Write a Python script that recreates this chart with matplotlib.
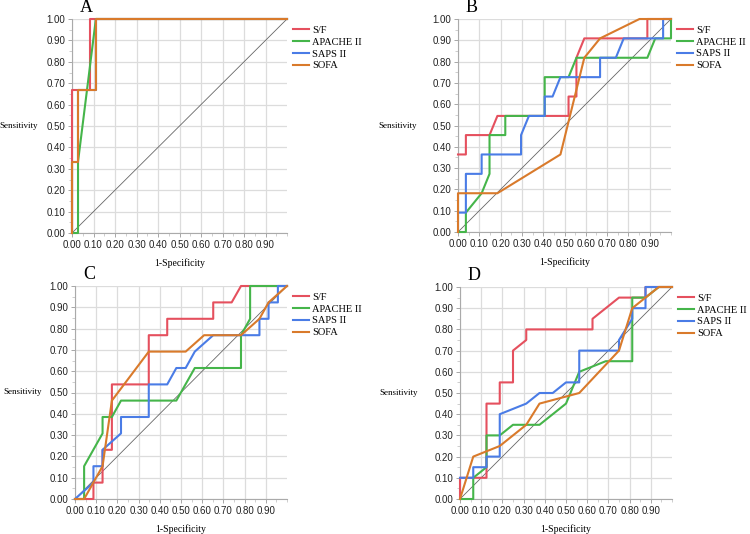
import numpy as np
import matplotlib
matplotlib.use("Agg")
import matplotlib.pyplot as plt
from matplotlib.ticker import MultipleLocator

# series names and colours
names = ["S/F", "APACHE II", "SAPS II", "SOFA"]
colors = ["#e5505e", "#45b54a", "#4a7ce6", "#d97a2b"]

# Panel A  (ROC points, 1-specificity / sensitivity)
a_sf_x = [0, 0, 0.083, 0.083, 1]
a_sf_y = [0, 0.667, 0.667, 1, 1]
a_ap_x = [0, 0.028, 0.028, 0.111, 1]
a_ap_y = [0, 0, 0.333, 1, 1]
a_sa_x = [0, 0, 0.028, 0.028, 0.111, 0.111, 1]
a_sa_y = [0, 0.333, 0.333, 0.667, 0.667, 1, 1]
a_so_x = [0, 0, 0.028, 0.028, 0.111, 0.111, 1]
a_so_y = [0, 0.333, 0.333, 0.667, 0.667, 1, 1]

# Panel B
b_sf_x = [0, 0.037, 0.037, 0.148, 0.185, 0.519, 0.519, 0.556, 0.556, 0.593, 0.889, 0.889, 1]
b_sf_y = [0.364, 0.364, 0.455, 0.455, 0.545, 0.545, 0.636, 0.636, 0.818, 0.909, 0.909, 1, 1]
b_ap_x = [0, 0.037, 0.037, 0.111, 0.148, 0.148, 0.222, 0.222, 0.407, 0.407, 0.519, 0.556, 0.889, 0.926, 1, 1]
b_ap_y = [0, 0, 0.091, 0.182, 0.273, 0.455, 0.455, 0.545, 0.545, 0.727, 0.727, 0.818, 0.818, 0.909, 0.909, 1]
b_sa_x = [0, 0.037, 0.037, 0.111, 0.111, 0.296, 0.296, 0.333, 0.407, 0.407, 0.444, 0.481, 0.667, 0.667,
          0.741, 0.778, 0.963, 0.963, 1]
b_sa_y = [0.091, 0.091, 0.273, 0.273, 0.364, 0.364, 0.455, 0.545, 0.545, 0.636, 0.636, 0.727, 0.727, 0.818,
          0.818, 0.909, 0.909, 1, 1]
b_so_x = [0, 0, 0.185, 0.481, 0.593, 0.667, 0.852, 1]
b_so_y = [0, 0.182, 0.182, 0.364, 0.818, 0.909, 1, 1]

# Panel C
c_sf_x = [0, 0.087, 0.087, 0.130, 0.130, 0.174, 0.174, 0.348, 0.348, 0.435, 0.435, 0.652, 0.652, 0.739, 0.783, 1]
c_sf_y = [0, 0, 0.077, 0.077, 0.231, 0.231, 0.538, 0.538, 0.769, 0.769, 0.846, 0.846, 0.923, 0.923, 1, 1]
c_ap_x = [0, 0.043, 0.043, 0.130, 0.130, 0.174, 0.217, 0.478, 0.565, 0.783, 0.783, 0.826, 0.826, 1]
c_ap_y = [0, 0, 0.154, 0.308, 0.385, 0.385, 0.462, 0.462, 0.615, 0.615, 0.769, 0.846, 1, 1]
c_sa_x = [0, 0.087, 0.087, 0.130, 0.130, 0.217, 0.217, 0.348, 0.348, 0.435, 0.478, 0.522, 0.565, 0.652,
          0.870, 0.870, 0.913, 0.913, 0.957, 0.957, 1]
c_sa_y = [0, 0.077, 0.154, 0.154, 0.231, 0.308, 0.385, 0.385, 0.538, 0.538, 0.615, 0.615, 0.692, 0.769,
          0.769, 0.846, 0.846, 0.923, 0.923, 1, 1]
c_so_x = [0, 0.043, 0.130, 0.174, 0.348, 0.522, 0.609, 0.783, 0.870, 0.913, 1]
c_so_y = [0, 0, 0.154, 0.462, 0.692, 0.692, 0.769, 0.769, 0.846, 0.923, 1]

# Panel D
d_sf_x = [0, 0, 0.125, 0.125, 0.1875, 0.1875, 0.25, 0.25, 0.3125, 0.3125, 0.625, 0.625, 0.75, 0.875, 0.875, 1]
d_sf_y = [0, 0.1, 0.1, 0.45, 0.45, 0.55, 0.55, 0.70, 0.75, 0.80, 0.80, 0.85, 0.95, 0.95, 1, 1]
d_ap_x = [0, 0.0625, 0.0625, 0.125, 0.125, 0.1875, 0.25, 0.375, 0.5, 0.5625, 0.6875, 0.8125, 0.8125, 0.875,
          0.9375, 1]
d_ap_y = [0, 0, 0.1, 0.15, 0.30, 0.30, 0.35, 0.35, 0.45, 0.60, 0.65, 0.65, 0.95, 0.95, 1, 1]
d_sa_x = [0, 0.0625, 0.0625, 0.125, 0.125, 0.1875, 0.1875, 0.3125, 0.375, 0.4375, 0.5, 0.5625, 0.5625, 0.75,
          0.75, 0.8125, 0.8125, 0.875, 0.875, 1]
d_sa_y = [0.1, 0.1, 0.15, 0.15, 0.20, 0.20, 0.40, 0.45, 0.50, 0.50, 0.55, 0.55, 0.70, 0.70, 0.75, 0.85,
          0.90, 0.90, 1, 1]
d_so_x = [0, 0.0625, 0.1875, 0.3125, 0.375, 0.5625, 0.75, 0.8125, 0.875, 0.9375, 1]
d_so_y = [0, 0.20, 0.25, 0.35, 0.45, 0.50, 0.70, 0.90, 0.95, 1, 1]

panels = [
    ("A", [(a_sf_x, a_sf_y), (a_ap_x, a_ap_y), (a_sa_x, a_sa_y), (a_so_x, a_so_y)]),
    ("B", [(b_sf_x, b_sf_y), (b_ap_x, b_ap_y), (b_sa_x, b_sa_y), (b_so_x, b_so_y)]),
    ("C", [(c_sf_x, c_sf_y), (c_ap_x, c_ap_y), (c_sa_x, c_sa_y), (c_so_x, c_so_y)]),
    ("D", [(d_sf_x, d_sf_y), (d_ap_x, d_ap_y), (d_sa_x, d_sa_y), (d_so_x, d_so_y)]),
]

W, H = 750, 534
# axes boxes in pixels: left, top, right, bottom
boxes = [(72, 19, 287, 233), (458, 19, 671, 232), (75, 286, 287, 499), (460, 287, 672, 499)]
ylab_x = [-0.246, -0.285, -0.245, -0.29]
serif = ["Liberation Serif", "DejaVu Serif"]
sans = ["Liberation Sans", "DejaVu Sans"]

fig = plt.figure(figsize=(W / 100, H / 100), dpi=100)

for (letter, curves), box, ylx in zip(panels, boxes, ylab_x):
    l, t, r, b = box
    ax = fig.add_axes([l / W, 1 - b / H, (r - l) / W, (b - t) / H])
    ax.set_xlim(0, 1)
    ax.set_ylim(0, 1)
    ax.set_xticks(np.arange(0, 0.95, 0.1))
    ax.set_yticks(np.arange(0, 1.05, 0.1))
    ax.set_xticklabels([f"{v:.2f}" for v in np.arange(0, 0.95, 0.1)], family=sans, fontsize=7, color="#222222")
    ax.set_yticklabels([f"{v:.2f}" for v in np.arange(0, 1.05, 0.1)], family=sans, fontsize=7, color="#222222")
    ax.xaxis.set_minor_locator(MultipleLocator(0.05))
    ax.yaxis.set_minor_locator(MultipleLocator(0.05))
    ax.tick_params(which="major", length=3, width=0.6, color="#999999", pad=2)
    ax.tick_params(which="minor", length=2, width=0.5, color="#bbbbbb")
    ax.grid(True, which="major", color="#dcdcdc", lw=0.9)
    for s in ["top", "right"]:
        ax.spines[s].set_visible(False)
    for s in ["left", "bottom"]:
        ax.spines[s].set_color("#aaaaaa")
        ax.spines[s].set_linewidth(0.8)
    ax.set_axisbelow(True)

    ax.plot([0, 1], [0, 1], color="#666666", lw=0.6, zorder=2)
    for i in range(4):
        xs, ys = curves[i]
        ax.plot(xs, ys, color=colors[i], lw=1.5, label=names[i], clip_on=False, zorder=3)

    ax.legend(loc="upper left", bbox_to_anchor=(1.03, 0.97), frameon=False,
              prop={"family": serif, "size": 7.5}, handlelength=1.5, handletextpad=0.3,
              labelspacing=0.25, borderpad=0, borderaxespad=0)

    ax.set_xlabel("1-Specificity", family=serif, fontsize=7, labelpad=6)
    ax.set_ylabel("Sensitivity", family=serif, fontsize=6.5, rotation=0, ha="center", va="center")
    ax.yaxis.set_label_coords(ylx, 0.5)
    ax.text(0.065, 1.055, letter, transform=ax.transAxes, family=serif, fontsize=13,
            ha="center", va="center")

fig.savefig("out.png", dpi=100)
